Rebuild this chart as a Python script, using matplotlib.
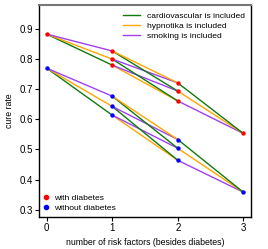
import matplotlib
matplotlib.use("Agg")
import matplotlib.pyplot as plt
from matplotlib.lines import Line2D

plt.rcParams["font.family"] = ["Liberation Sans", "DejaVu Sans"]

# Combinations of risk factors: C = cardiovascular, H = hypnotika, S = smoking
combos = ["", "C", "H", "S", "CH", "CS", "HS", "CHS"]
with_diabetes = [0.883, 0.780, 0.800, 0.827, 0.661, 0.694, 0.721, 0.553]
without_diabetes = [0.770, 0.614, 0.643, 0.677, 0.464, 0.504, 0.533, 0.358]

factors = ["C", "H", "S"]
factor_labels = ["cardiovascular is included", "hypnotika is included", "smoking is included"]
factor_colors = ["#0f7a0f", "#ffa500", "#a040f0"]
group_labels = ["with diabetes", "without diabetes"]
group_colors = ["#ff0000", "#0000ff"]
xticks = [0, 1, 2, 3]
yticks = [0.3, 0.4, 0.5, 0.6, 0.7, 0.8, 0.9]

fig = plt.figure(figsize=(2.68, 2.49), dpi=100)
ax = fig.add_axes([0.147, 0.130, 0.788, 0.848])

for vals, gcol in zip([with_diabetes, without_diabetes], group_colors):
    d = dict(zip(combos, vals))
    for c in combos:
        for f, fcol in zip(factors, factor_colors):
            if f in c:
                continue
            nxt = "".join(sorted(c + f, key=lambda ch: "CHS".index(ch)))
            ax.plot([len(c), len(nxt)], [d[c], d[nxt]], color=fcol, lw=1.0, zorder=2)
    ax.scatter([len(c) for c in combos], vals, s=10, color=gcol, zorder=3, linewidths=0)

ax.set_xlim(-0.11, 3.11)
ax.set_ylim(0.277, 0.978)
ax.set_xticks(xticks)
ax.set_yticks(yticks)
ax.set_xticklabels([str(t) for t in xticks])
ax.set_yticklabels([f"{t:.1f}" for t in yticks])
ax.tick_params(labelsize=7, length=3, width=0.8, pad=1.5)
for s in ax.spines.values():
    s.set_linewidth(1.0)
ax.spines["top"].set_color("#777777")
ax.spines["top"].set_linewidth(1.5)
ax.set_xlabel("number of risk factors (besides diabetes)", fontsize=6.3, labelpad=4)
ax.set_ylabel("cure rate", fontsize=6.3, labelpad=4)

h1 = [Line2D([], [], color=c, lw=1.0) for c in factor_colors]
leg1 = ax.legend(h1, factor_labels, loc="upper right", fontsize=6.1, frameon=False,
                 handlelength=2.0, handletextpad=0.8, labelspacing=0.25,
                 borderaxespad=0.3, bbox_to_anchor=(1.0, 0.997))
ax.add_artist(leg1)
h2 = [Line2D([], [], color=c, lw=0, marker="o", markersize=3) for c in group_colors]
ax.legend(h2, group_labels, loc="lower left", fontsize=6.1, frameon=False,
          handlelength=0.6, handletextpad=0.6, labelspacing=0.25, borderaxespad=0.1,
          bbox_to_anchor=(0.0, 0.0))

fig.savefig("out.png", dpi=100)
